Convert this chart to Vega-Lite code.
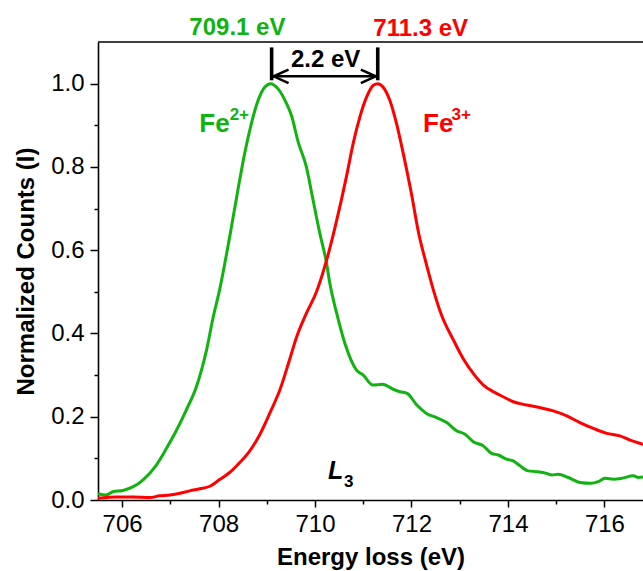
{
  "$schema": "https://vega.github.io/schema/vega-lite/v6.json",
  "width": 545,
  "height": 458,
  "autosize": {"type": "none"},
  "padding": {"left": 98, "top": 42, "right": 0, "bottom": 71},
  "background": "white",
  "config": {
    "font": "Liberation Sans",
    "view": {"stroke": null},
    "axis": {"grid": false, "domainColor": "black", "tickColor": "black", "labelColor": "black", "titleColor": "black", "labelFont": "Liberation Sans", "titleFont": "Liberation Sans"}
  },
  "datasets": {
    "spectra": [
      {"E": 705.5, "I": 0.015, "ion": "Fe2+"},
      {"E": 705.67, "I": 0.012, "ion": "Fe2+"},
      {"E": 705.81, "I": 0.02, "ion": "Fe2+"},
      {"E": 706.02, "I": 0.023, "ion": "Fe2+"},
      {"E": 706.23, "I": 0.032, "ion": "Fe2+"},
      {"E": 706.43, "I": 0.048, "ion": "Fe2+"},
      {"E": 706.71, "I": 0.084, "ion": "Fe2+"},
      {"E": 706.92, "I": 0.124, "ion": "Fe2+"},
      {"E": 707.13, "I": 0.168, "ion": "Fe2+"},
      {"E": 707.33, "I": 0.216, "ion": "Fe2+"},
      {"E": 707.54, "I": 0.272, "ion": "Fe2+"},
      {"E": 707.75, "I": 0.36, "ion": "Fe2+"},
      {"E": 707.89, "I": 0.44, "ion": "Fe2+"},
      {"E": 708.02, "I": 0.504, "ion": "Fe2+"},
      {"E": 708.23, "I": 0.632, "ion": "Fe2+"},
      {"E": 708.4, "I": 0.744, "ion": "Fe2+"},
      {"E": 708.54, "I": 0.832, "ion": "Fe2+"},
      {"E": 708.68, "I": 0.904, "ion": "Fe2+"},
      {"E": 708.82, "I": 0.96, "ion": "Fe2+"},
      {"E": 708.96, "I": 0.992, "ion": "Fe2+"},
      {"E": 709.08, "I": 1.0, "ion": "Fe2+"},
      {"E": 709.23, "I": 0.988, "ion": "Fe2+"},
      {"E": 709.41, "I": 0.952, "ion": "Fe2+"},
      {"E": 709.51, "I": 0.924, "ion": "Fe2+"},
      {"E": 709.65, "I": 0.86, "ion": "Fe2+"},
      {"E": 709.82, "I": 0.8, "ion": "Fe2+"},
      {"E": 709.96, "I": 0.72, "ion": "Fe2+"},
      {"E": 710.1, "I": 0.64, "ion": "Fe2+"},
      {"E": 710.24, "I": 0.568, "ion": "Fe2+"},
      {"E": 710.3, "I": 0.525, "ion": "Fe2+"},
      {"E": 710.45, "I": 0.448, "ion": "Fe2+"},
      {"E": 710.62, "I": 0.376, "ion": "Fe2+"},
      {"E": 710.86, "I": 0.312, "ion": "Fe2+"},
      {"E": 711.0, "I": 0.3, "ion": "Fe2+"},
      {"E": 711.2, "I": 0.276, "ion": "Fe2+"},
      {"E": 711.4, "I": 0.278, "ion": "Fe2+"},
      {"E": 711.62, "I": 0.266, "ion": "Fe2+"},
      {"E": 711.76, "I": 0.26, "ion": "Fe2+"},
      {"E": 711.91, "I": 0.256, "ion": "Fe2+"},
      {"E": 712.11, "I": 0.228, "ion": "Fe2+"},
      {"E": 712.31, "I": 0.208, "ion": "Fe2+"},
      {"E": 712.52, "I": 0.198, "ion": "Fe2+"},
      {"E": 712.73, "I": 0.186, "ion": "Fe2+"},
      {"E": 712.94, "I": 0.166, "ion": "Fe2+"},
      {"E": 713.11, "I": 0.158, "ion": "Fe2+"},
      {"E": 713.28, "I": 0.14, "ion": "Fe2+"},
      {"E": 713.49, "I": 0.13, "ion": "Fe2+"},
      {"E": 713.66, "I": 0.112, "ion": "Fe2+"},
      {"E": 713.8, "I": 0.108, "ion": "Fe2+"},
      {"E": 713.97, "I": 0.098, "ion": "Fe2+"},
      {"E": 714.11, "I": 0.094, "ion": "Fe2+"},
      {"E": 714.25, "I": 0.082, "ion": "Fe2+"},
      {"E": 714.42, "I": 0.07, "ion": "Fe2+"},
      {"E": 714.6, "I": 0.068, "ion": "Fe2+"},
      {"E": 714.8, "I": 0.064, "ion": "Fe2+"},
      {"E": 714.91, "I": 0.06, "ion": "Fe2+"},
      {"E": 715.04, "I": 0.062, "ion": "Fe2+"},
      {"E": 715.25, "I": 0.054, "ion": "Fe2+"},
      {"E": 715.49, "I": 0.042, "ion": "Fe2+"},
      {"E": 715.72, "I": 0.04, "ion": "Fe2+"},
      {"E": 715.87, "I": 0.044, "ion": "Fe2+"},
      {"E": 716.01, "I": 0.052, "ion": "Fe2+"},
      {"E": 716.19, "I": 0.05, "ion": "Fe2+"},
      {"E": 716.36, "I": 0.052, "ion": "Fe2+"},
      {"E": 716.6, "I": 0.058, "ion": "Fe2+"},
      {"E": 716.7, "I": 0.054, "ion": "Fe2+"},
      {"E": 716.8, "I": 0.055, "ion": "Fe2+"},
      {"E": 705.5, "I": 0.004, "ion": "Fe3+"},
      {"E": 705.88, "I": 0.007, "ion": "Fe3+"},
      {"E": 706.23, "I": 0.007, "ion": "Fe3+"},
      {"E": 706.57, "I": 0.006, "ion": "Fe3+"},
      {"E": 706.78, "I": 0.01, "ion": "Fe3+"},
      {"E": 706.99, "I": 0.012, "ion": "Fe3+"},
      {"E": 707.2, "I": 0.016, "ion": "Fe3+"},
      {"E": 707.4, "I": 0.022, "ion": "Fe3+"},
      {"E": 707.61, "I": 0.027, "ion": "Fe3+"},
      {"E": 707.82, "I": 0.033, "ion": "Fe3+"},
      {"E": 708.02, "I": 0.049, "ion": "Fe3+"},
      {"E": 708.23, "I": 0.066, "ion": "Fe3+"},
      {"E": 708.44, "I": 0.09, "ion": "Fe3+"},
      {"E": 708.64, "I": 0.117, "ion": "Fe3+"},
      {"E": 708.85, "I": 0.156, "ion": "Fe3+"},
      {"E": 709.06, "I": 0.208, "ion": "Fe3+"},
      {"E": 709.27, "I": 0.264, "ion": "Fe3+"},
      {"E": 709.48, "I": 0.34, "ion": "Fe3+"},
      {"E": 709.62, "I": 0.392, "ion": "Fe3+"},
      {"E": 709.82, "I": 0.448, "ion": "Fe3+"},
      {"E": 710.03, "I": 0.5, "ion": "Fe3+"},
      {"E": 710.24, "I": 0.576, "ion": "Fe3+"},
      {"E": 710.45, "I": 0.672, "ion": "Fe3+"},
      {"E": 710.65, "I": 0.776, "ion": "Fe3+"},
      {"E": 710.79, "I": 0.856, "ion": "Fe3+"},
      {"E": 710.93, "I": 0.92, "ion": "Fe3+"},
      {"E": 711.07, "I": 0.968, "ion": "Fe3+"},
      {"E": 711.21, "I": 0.996, "ion": "Fe3+"},
      {"E": 711.3, "I": 1.0, "ion": "Fe3+"},
      {"E": 711.41, "I": 0.992, "ion": "Fe3+"},
      {"E": 711.55, "I": 0.96, "ion": "Fe3+"},
      {"E": 711.69, "I": 0.904, "ion": "Fe3+"},
      {"E": 711.83, "I": 0.832, "ion": "Fe3+"},
      {"E": 712.0, "I": 0.735, "ion": "Fe3+"},
      {"E": 712.15, "I": 0.64, "ion": "Fe3+"},
      {"E": 712.3, "I": 0.57, "ion": "Fe3+"},
      {"E": 712.45, "I": 0.506, "ion": "Fe3+"},
      {"E": 712.62, "I": 0.445, "ion": "Fe3+"},
      {"E": 712.87, "I": 0.384, "ion": "Fe3+"},
      {"E": 713.07, "I": 0.34, "ion": "Fe3+"},
      {"E": 713.28, "I": 0.304, "ion": "Fe3+"},
      {"E": 713.49, "I": 0.276, "ion": "Fe3+"},
      {"E": 713.7, "I": 0.26, "ion": "Fe3+"},
      {"E": 713.9, "I": 0.248, "ion": "Fe3+"},
      {"E": 714.11, "I": 0.236, "ion": "Fe3+"},
      {"E": 714.39, "I": 0.228, "ion": "Fe3+"},
      {"E": 714.66, "I": 0.222, "ion": "Fe3+"},
      {"E": 714.94, "I": 0.214, "ion": "Fe3+"},
      {"E": 715.22, "I": 0.202, "ion": "Fe3+"},
      {"E": 715.49, "I": 0.186, "ion": "Fe3+"},
      {"E": 715.77, "I": 0.172, "ion": "Fe3+"},
      {"E": 716.05, "I": 0.16, "ion": "Fe3+"},
      {"E": 716.32, "I": 0.154, "ion": "Fe3+"},
      {"E": 716.53, "I": 0.144, "ion": "Fe3+"},
      {"E": 716.8, "I": 0.134, "ion": "Fe3+"}
    ]
  },
  "layer": [
    {
      "data": {"name": "spectra"},
      "mark": {"type": "line", "strokeWidth": 3, "interpolate": "monotone", "clip": true},
      "encoding": {
        "x": {
          "field": "E", "type": "quantitative",
          "scale": {"domain": [705.5, 716.8], "nice": false, "zero": false},
          "axis": {
            "title": "Energy loss (eV)",
            "values": [706, 707, 708, 709, 710, 711, 712, 713, 714, 715, 716],
            "format": "d",
            "labelExpr": "datum.value % 2 == 0 ? datum.label : ''",
            "tickSize": {"condition": {"test": "datum.value % 2 == 0", "value": 7}, "value": 4},
            "tickWidth": 1.5,
            "domainWidth": 1.6,
            "labelFontSize": 24,
            "labelPadding": 5,
            "titleFontSize": 24,
            "titleFontWeight": "bold",
            "titlePadding": 9
          }
        },
        "y": {
          "field": "I", "type": "quantitative",
          "scale": {"domain": [0, 1.1], "nice": false},
          "axis": {
            "title": "Normalized Counts (I)",
            "values": [0, 0.1, 0.2, 0.3, 0.4, 0.5, 0.6, 0.7, 0.8, 0.9, 1.0],
            "labelExpr": "round(datum.value * 10) % 2 == 0 ? format(datum.value, '.1f') : ''",
            "tickSize": {"condition": {"test": "round(datum.value * 10) % 2 == 0", "value": 8}, "value": 4},
            "tickWidth": 1.5,
            "domainWidth": 1.6,
            "labelFontSize": 24,
            "labelPadding": 6,
            "titleFontSize": 24,
            "titleFontWeight": "bold",
            "titlePadding": 12
          }
        },
        "color": {
          "field": "ion", "type": "nominal",
          "scale": {"domain": ["Fe2+", "Fe3+"], "range": ["#10b310", "#ff0000"]},
          "legend": null
        }
      }
    },
    {
      "data": {"values": [{"E": 705.5, "E2": 716.8, "I": 1.1}]},
      "mark": {"type": "rule", "color": "black", "strokeWidth": 1.6},
      "encoding": {
        "x": {"field": "E", "type": "quantitative"},
        "x2": {"field": "E2"},
        "y": {"field": "I", "type": "quantitative"}
      }
    },
    {
      "data": {"values": [{"E": 709.1, "I": 1.008, "I2": 1.087}, {"E": 711.3, "I": 1.008, "I2": 1.087}]},
      "mark": {"type": "rule", "color": "black", "strokeWidth": 3.6},
      "encoding": {
        "x": {"field": "E", "type": "quantitative"},
        "y": {"field": "I", "type": "quantitative"},
        "y2": {"field": "I2"}
      }
    },
    {
      "data": {"values": [{"E": 709.13, "E2": 711.27, "I": 1.0175}]},
      "mark": {"type": "rule", "color": "black", "strokeWidth": 2.5},
      "encoding": {
        "x": {"field": "E", "type": "quantitative"},
        "x2": {"field": "E2"},
        "y": {"field": "I", "type": "quantitative"}
      }
    },
    {
      "data": {"values": [{"E": 709.14, "I": 1.0175, "dir": "left"}, {"E": 711.26, "I": 1.0175, "dir": "right"}]},
      "mark": {"type": "point", "filled": false, "color": "black", "strokeWidth": 2.5, "size": 900, "opacity": 1, "strokeJoin": "miter"},
      "encoding": {
        "x": {"field": "E", "type": "quantitative"},
        "y": {"field": "I", "type": "quantitative"},
        "shape": {
          "field": "dir", "type": "nominal",
          "scale": {"domain": ["left", "right"], "range": ["M1,-0.45L0,0L1,0.45", "M-1,-0.45L0,0L-1,0.45"]},
          "legend": null
        }
      }
    },
    {
      "data": {"values": [{"E": 708.39, "I": 1.1175, "label": "709.1 eV"}]},
      "mark": {"type": "text", "color": "#10b310", "fontSize": 24, "fontWeight": "bold", "align": "center", "baseline": "alphabetic"},
      "encoding": {
        "x": {"field": "E", "type": "quantitative"},
        "y": {"field": "I", "type": "quantitative"},
        "text": {"field": "label"}
      }
    },
    {
      "data": {"values": [{"E": 712.19, "I": 1.115, "label": "711.3 eV"}]},
      "mark": {"type": "text", "color": "#ff0000", "fontSize": 24, "fontWeight": "bold", "align": "center", "baseline": "alphabetic"},
      "encoding": {
        "x": {"field": "E", "type": "quantitative"},
        "y": {"field": "I", "type": "quantitative"},
        "text": {"field": "label"}
      }
    },
    {
      "data": {"values": [{"E": 710.22, "I": 1.039, "label": "2.2 eV"}]},
      "mark": {"type": "text", "color": "black", "fontSize": 24, "fontWeight": "bold", "align": "center", "baseline": "alphabetic"},
      "encoding": {
        "x": {"field": "E", "type": "quantitative"},
        "y": {"field": "I", "type": "quantitative"},
        "text": {"field": "label"}
      }
    },
    {
      "data": {"values": [{"E": 707.6, "I": 0.884, "label": "Fe"}]},
      "mark": {"type": "text", "color": "#10b310", "fontSize": 26, "fontWeight": "bold", "align": "left", "baseline": "alphabetic"},
      "encoding": {
        "x": {"field": "E", "type": "quantitative"},
        "y": {"field": "I", "type": "quantitative"},
        "text": {"field": "label"}
      }
    },
    {
      "data": {"values": [{"E": 708.23, "I": 0.912, "label": "2+"}]},
      "mark": {"type": "text", "color": "#10b310", "fontSize": 17, "fontWeight": "bold", "align": "left", "baseline": "alphabetic"},
      "encoding": {
        "x": {"field": "E", "type": "quantitative"},
        "y": {"field": "I", "type": "quantitative"},
        "text": {"field": "label"}
      }
    },
    {
      "data": {"values": [{"E": 712.24, "I": 0.884, "label": "Fe"}]},
      "mark": {"type": "text", "color": "#ff0000", "fontSize": 26, "fontWeight": "bold", "align": "left", "baseline": "alphabetic"},
      "encoding": {
        "x": {"field": "E", "type": "quantitative"},
        "y": {"field": "I", "type": "quantitative"},
        "text": {"field": "label"}
      }
    },
    {
      "data": {"values": [{"E": 712.83, "I": 0.912, "label": "3+"}]},
      "mark": {"type": "text", "color": "#ff0000", "fontSize": 17, "fontWeight": "bold", "align": "left", "baseline": "alphabetic"},
      "encoding": {
        "x": {"field": "E", "type": "quantitative"},
        "y": {"field": "I", "type": "quantitative"},
        "text": {"field": "label"}
      }
    },
    {
      "data": {"values": [{"E": 710.27, "I": 0.05, "label": "L"}]},
      "mark": {"type": "text", "color": "black", "fontSize": 25, "fontWeight": "bold", "fontStyle": "italic", "align": "left", "baseline": "alphabetic"},
      "encoding": {
        "x": {"field": "E", "type": "quantitative"},
        "y": {"field": "I", "type": "quantitative"},
        "text": {"field": "label"}
      }
    },
    {
      "data": {"values": [{"E": 710.6, "I": 0.032, "label": "3"}]},
      "mark": {"type": "text", "color": "black", "fontSize": 17, "fontWeight": "bold", "align": "left", "baseline": "alphabetic"},
      "encoding": {
        "x": {"field": "E", "type": "quantitative"},
        "y": {"field": "I", "type": "quantitative"},
        "text": {"field": "label"}
      }
    }
  ]
}
